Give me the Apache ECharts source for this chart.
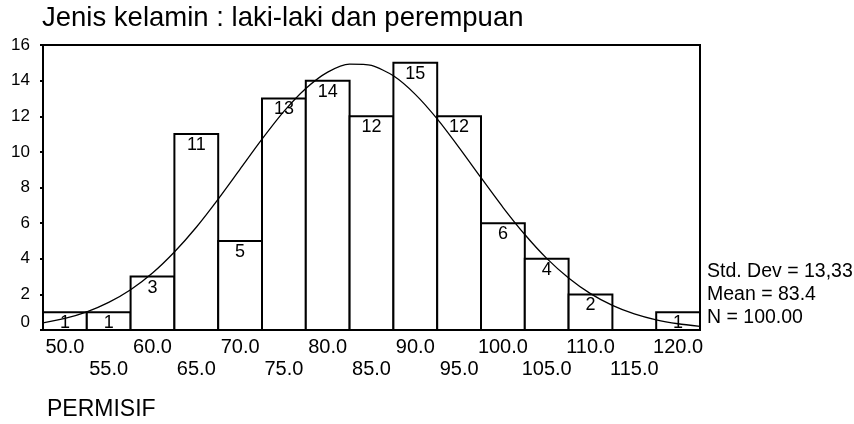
<!DOCTYPE html>
<html>
<head>
<meta charset="utf-8">
<script src="https://cdn.jsdelivr.net/npm/echarts@6/dist/echarts.min.js"></script>
<style>
html,body{margin:0;padding:0;background:#fff;}
#chart{width:854px;height:424px;}
</style>
</head>
<body>
<div id="chart"></div>
<script>
// ---- data ----
const titleText = 'Jenis kelamin : laki-laki dan perempuan';
const axisName = 'PERMISIF';
const binCenters = [50, 55, 60, 65, 70, 75, 80, 85, 90, 95, 100, 105, 110, 115, 120];
const counts     = [1, 1, 3, 11, 5, 13, 14, 12, 15, 12, 6, 4, 2, 0, 1];
const binWidth = 5;
// fitted normal curve
const curveX = [47.5, 50, 52.5, 55, 57.5, 60, 62.5, 65, 67.5, 70, 72.5, 75, 77.5, 80, 82.5, 85, 87.5, 90, 92.5, 95, 97.5, 100, 102.5, 105, 107.5, 110, 112.5, 115, 117.5, 120, 122.5];
const curveY = [0.40, 0.65, 1.02, 1.55, 2.26, 3.20, 4.38, 5.77, 7.35, 9.03, 10.71, 12.27, 13.56, 14.48, 14.93, 14.85, 14.27, 13.23, 11.85, 10.24, 8.55, 6.89, 5.36, 4.02, 2.92, 2.04, 1.38, 0.90, 0.57, 0.35, 0.20];
const xTickRow1 = [50, 60, 70, 80, 90, 100, 110, 120];
const xTickRow2 = [55, 65, 75, 85, 95, 105, 115];
const yMin = 0, yMax = 16, yStep = 2;
const statsLines = ['Std. Dev = 13,33', 'Mean = 83.4', 'N = 100.00'];

const FONT = '"Liberation Sans", Arial, sans-serif';
const chart = echarts.init(document.getElementById('chart'), null, {renderer: 'canvas'});

const barData = binCenters.map((c, i) => [c, counts[i]]);
const curveData = curveX.map((x, i) => [x, curveY[i]]);

function xAxisRow(values, margin, showLine) {
  return {
    type: 'value', min: 47.5, max: 122.5, position: 'bottom',
    axisLine: {show: showLine, lineStyle: {color: '#000', width: 2}},
    axisTick: {show: false},
    splitLine: {show: false},
    axisLabel: {
      customValues: values,
      showMaxLabel: true, showMinLabel: true, hideOverlap: false,
      color: '#000', fontFamily: FONT, fontSize: 20, margin: margin,
      formatter: function (v) { return v.toFixed(1); }
    }
  };
}

const option = {
  backgroundColor: '#ffffff',
  animation: false,
  grid: {left: 43, right: 154, top: 45, bottom: 94, show: true, borderColor: '#000', borderWidth: 2, backgroundColor: 'transparent'},
  xAxis: [xAxisRow(xTickRow1, 7, true), xAxisRow(xTickRow2, 29, false)],
  yAxis: {
    type: 'value', min: yMin, max: yMax, interval: yStep,
    axisLine: {show: true, lineStyle: {color: '#000', width: 2}},
    axisTick: {show: true, length: 3, lineStyle: {color: '#000', width: 2}},
    splitLine: {show: false},
    axisLabel: {
      color: '#000', fontFamily: FONT, fontSize: 17, margin: 13,
      formatter: function (v) { return v === 0 ? '{z|0}' : String(v); },
      rich: {z: {fontFamily: FONT, fontSize: 17, color: '#000', padding: [0, 0, 16, 0]}}
    }
  },
  graphic: [
    {type: 'text', left: 42, top: 4, style: {text: titleText, font: '27.5px ' + FONT, fill: '#000'}},
    {type: 'text', left: 47, top: 398, style: {text: axisName, font: '23px ' + FONT, fill: '#000'}},
    {type: 'text', left: 707, top: 260, style: {text: statsLines.join('\n'), font: '19.5px ' + FONT, fill: '#000', lineHeight: 23}}
  ],
  series: [
    {
      type: 'custom',
      data: barData,
      z: 2,
      renderItem: function (params, api) {
        const c = api.value(0), v = api.value(1);
        if (!v) return null;
        const p0 = api.coord([c - binWidth / 2, 0]);
        const p1 = api.coord([c + binWidth / 2, v]);
        return {
          type: 'group',
          children: [
            {type: 'rect', shape: {x: p0[0], y: p1[1], width: p1[0] - p0[0], height: p0[1] - p1[1]},
             style: {fill: '#fff', stroke: '#000', lineWidth: 2}},
            {type: 'text', style: {text: String(v), x: (p0[0] + p1[0]) / 2, y: p1[1] + 2,
             align: 'center', verticalAlign: 'top', font: '18px ' + FONT, fill: '#000'}}
          ]
        };
      }
    },
    {
      type: 'line',
      data: curveData,
      smooth: 0.25,
      showSymbol: false,
      z: 3,
      lineStyle: {color: '#000', width: 1.3},
      clip: true
    }
  ]
};
chart.setOption(option);
</script>
</body>
</html>
